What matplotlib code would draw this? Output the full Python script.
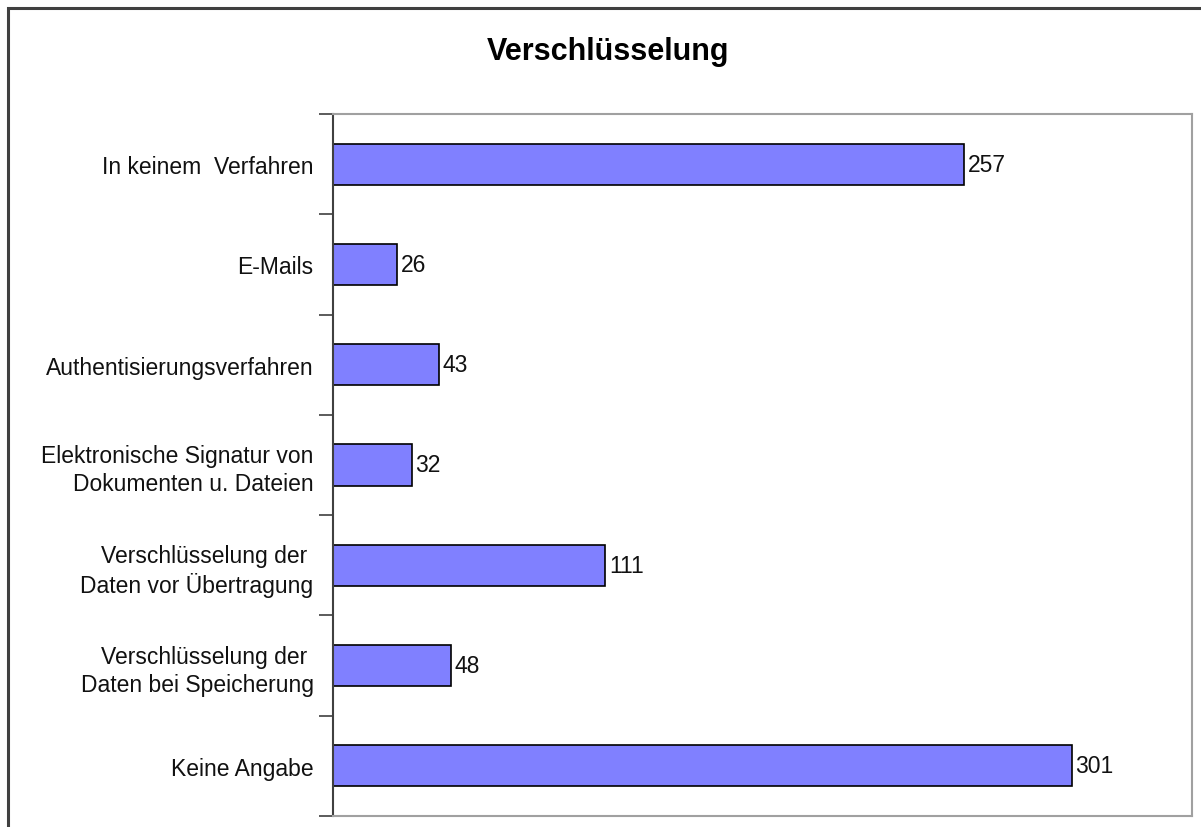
import numpy as np
import matplotlib.pyplot as plt
from matplotlib.patches import Rectangle

plt.rcParams['font.family'] = ['Liberation Sans', 'DejaVu Sans']

categories = ["In keinem  Verfahren", "E-Mails", "Authentisierungsverfahren",
              "Elektronische Signatur von\nDokumenten u. Dateien",
              "Verschlüsselung der \nDaten vor Übertragung",
              "Verschlüsselung der \nDaten bei Speicherung", "Keine Angabe"]
values = [257, 26, 43, 32, 111, 48, 301]
title = "Verschlüsselung"

fig = plt.figure(figsize=(12.01, 8.28), dpi=100)
ax = fig.add_axes([0.2773, 0.0133, 0.7152, 0.8478])

pos = np.arange(len(categories))
bars = ax.barh(pos, values, height=0.41, color="#8080FF", edgecolor="black", linewidth=1.2)

for b, v in zip(bars, values):
    ax.text(b.get_width() + 1.5, b.get_y() + b.get_height() / 2, str(v),
            va="center", ha="left", fontsize=16.5, color="#111111")

ax.set_xlim(0, 350)
ax.set_ylim(len(categories) - 0.5, -0.5)
ax.set_xticks([])
ax.set_yticks(np.arange(len(categories) + 1) - 0.5)
ax.set_yticklabels([])
ax.tick_params(axis="y", which="major", length=10, width=1.2, color="#404040")
ax.set_yticks(pos, minor=True)
ax.set_yticklabels(categories, minor=True, fontsize=16.5, color="#111111",
                   linespacing=1.25)
ax.tick_params(axis="y", which="minor", length=0, pad=14)
for lbl in ax.get_yticklabels(minor=True):
    lbl.set_horizontalalignment("right")

ax.spines["left"].set_color("#404040")
ax.spines["left"].set_linewidth(1.5)
for s in ["top", "right", "bottom"]:
    ax.spines[s].set_color("#a0a0a0")
    ax.spines[s].set_linewidth(1.5)

fig.text(0.5063, 0.937, title, ha="center", va="center", fontsize=22, fontweight="bold")

fig.patches.append(Rectangle((8 / 1201, -0.1), 1.2, 1.1 - 8.5 / 828, transform=fig.transFigure,
                             fill=False, edgecolor="#404040", linewidth=2.2))

fig.savefig("out.png", dpi=100)
